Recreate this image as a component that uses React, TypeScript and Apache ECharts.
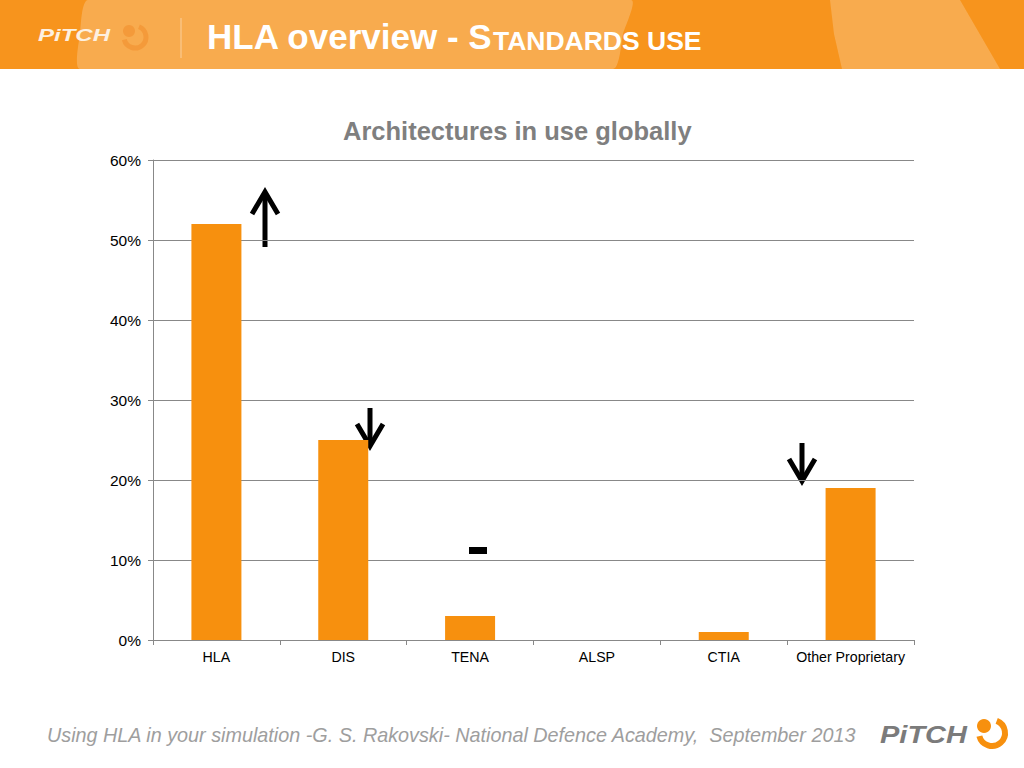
import React, { useEffect, useRef } from "react";
import * as echarts from "echarts";

const categories = ["HLA", "DIS", "TENA", "ALSP", "CTIA", "Other Proprietary"];
const usage = [52, 25, 3, 0, 1, 19];
const yTicks = { min: 0, max: 60, interval: 10 };

const FONT = "'Liberation Sans', Arial, Helvetica, sans-serif";

export default function App() {
  const ref = useRef<HTMLDivElement>(null);
  useEffect(() => {
    if (!ref.current) return;
    const chart = echarts.init(ref.current, undefined, { renderer: "svg" });
    const arrowStyle = { stroke: "#000", lineWidth: 5, fill: "none" };
    chart.setOption({
      animation: false,
      backgroundColor: "#ffffff",
      title: {
        text: "Architectures in use globally",
        left: 338,
        top: 113,
        textStyle: { fontFamily: FONT, fontSize: 25.5, fontWeight: "bold", color: "#7f7f7f" },
      },
      grid: { left: 153, right: 110, top: 160, bottom: 128 },
      xAxis: {
        type: "category",
        data: categories,
        axisLine: { lineStyle: { color: "#888888", width: 1 } },
        axisTick: { show: true, length: 5, alignWithLabel: false, lineStyle: { color: "#888888" } },
        axisLabel: { interval: 0, color: "#000", fontFamily: FONT, fontSize: 14.2, margin: 10 },
      },
      yAxis: {
        type: "value",
        min: yTicks.min,
        max: yTicks.max,
        interval: yTicks.interval,
        axisLine: { show: true, lineStyle: { color: "#888888", width: 1 } },
        axisTick: { show: true, length: 5, lineStyle: { color: "#888888" } },
        splitLine: { lineStyle: { color: "#888888", width: 1 } },
        axisLabel: { formatter: "{value}%", color: "#000", fontFamily: FONT, fontSize: 15.5, margin: 12 },
      },
      series: [
        {
          type: "bar",
          data: usage,
          barWidth: 50,
          itemStyle: { color: "#F7900E" },
        },
      ],
      graphic: [
        // header band
        { type: "rect", shape: { x: 0, y: 0, width: 1024, height: 69 }, style: { fill: "#F7941D" } },
        {
          type: "polygon",
          shape: { points: [[88, 0], [631, 0], [623, 34], [613, 69], [80, 69], [80, 34]], smooth: 0.2 },
          style: { fill: "rgba(255,255,255,0.22)" },
        },
        {
          type: "polygon",
          shape: { points: [[830, 0], [960, 0], [1000, 69], [842, 69], [834, 34]] },
          style: { fill: "rgba(255,255,255,0.22)" },
        },
        { type: "line", shape: { x1: 181, y1: 18, x2: 181, y2: 58 }, style: { stroke: "rgba(255,255,255,0.45)", lineWidth: 1 } },
        // header logo
        {
          type: "text",
          x: 38,
          y: 35,
          scaleY: 0.72,
          style: { text: "PiTCH", fontFamily: FONT, fontSize: 24, fontStyle: "italic", fontWeight: "bold", fill: "#FDF0E0", verticalAlign: "middle" },
        },
        { type: "circle", shape: { cx: 129, cy: 31, r: 6 }, style: { fill: "#F49A3A" } },
        { type: "arc", shape: { cx: 135, cy: 37, r: 11, startAngle: -1.2, endAngle: 2.9 }, style: { stroke: "#F49A3A", lineWidth: 5, fill: "none" } },
        // header title
        {
          type: "text",
          x: 207,
          y: 54,
          style: {
            text: "{a|HLA overview - S}{b|TANDARDS USE}",
            verticalAlign: "bottom",
            rich: {
              a: { fontFamily: FONT, fontSize: 35, fontWeight: "bold", fill: "#ffffff", verticalAlign: "bottom" },
              b: { fontFamily: FONT, fontSize: 26.5, fontWeight: "bold", fill: "#ffffff", verticalAlign: "bottom" },
            },
          },
        },
        // annotations: up arrow at HLA
        { type: "line", shape: { x1: 265, y1: 247, x2: 265, y2: 192 }, style: arrowStyle },
        { type: "polyline", shape: { points: [[252, 214], [265, 192], [278, 214]] }, style: arrowStyle },
        // down arrow at DIS
        { type: "line", shape: { x1: 370, y1: 408, x2: 370, y2: 446 }, style: arrowStyle },
        { type: "polyline", shape: { points: [[357, 424], [370, 446], [383, 424]] }, style: arrowStyle },
        // dash at TENA
        { type: "rect", shape: { x: 469, y: 547, width: 18, height: 7 }, style: { fill: "#000" } },
        // down arrow at Other
        { type: "line", shape: { x1: 802, y1: 443, x2: 802, y2: 481 }, style: arrowStyle },
        { type: "polyline", shape: { points: [[789, 459], [802, 481], [815, 459]] }, style: arrowStyle },
        // footer
        {
          type: "text",
          x: 47,
          y: 735,
          style: {
            text: "Using HLA in your simulation -G. S. Rakovski- National Defence Academy,  September 2013",
            fontFamily: FONT,
            fontSize: 19.8,
            fontStyle: "italic",
            fill: "#9e9e9e",
            verticalAlign: "middle",
          },
        },
        {
          type: "text",
          x: 880,
          y: 735,
          scaleY: 0.85,
          style: {
            text: "PiTCH",
            fontFamily: FONT,
            fontSize: 29,
            fontStyle: "italic",
            fontWeight: "bold",
            fill: "#7b7b7b",
            verticalAlign: "middle",
          },
        },
        { type: "circle", shape: { cx: 984, cy: 726, r: 7 }, style: { fill: "#F7900E" } },
        { type: "arc", shape: { cx: 992, cy: 733, r: 13, startAngle: -1.2, endAngle: 2.9 }, style: { stroke: "#F7900E", lineWidth: 6, fill: "none" } },
      ],
    });
    return () => chart.dispose();
  }, []);
  return (
    <div
      ref={ref}
      style={{ position: "fixed", left: 0, top: 0, width: 1024, height: 768, background: "#fff" }}
    />
  );
}
